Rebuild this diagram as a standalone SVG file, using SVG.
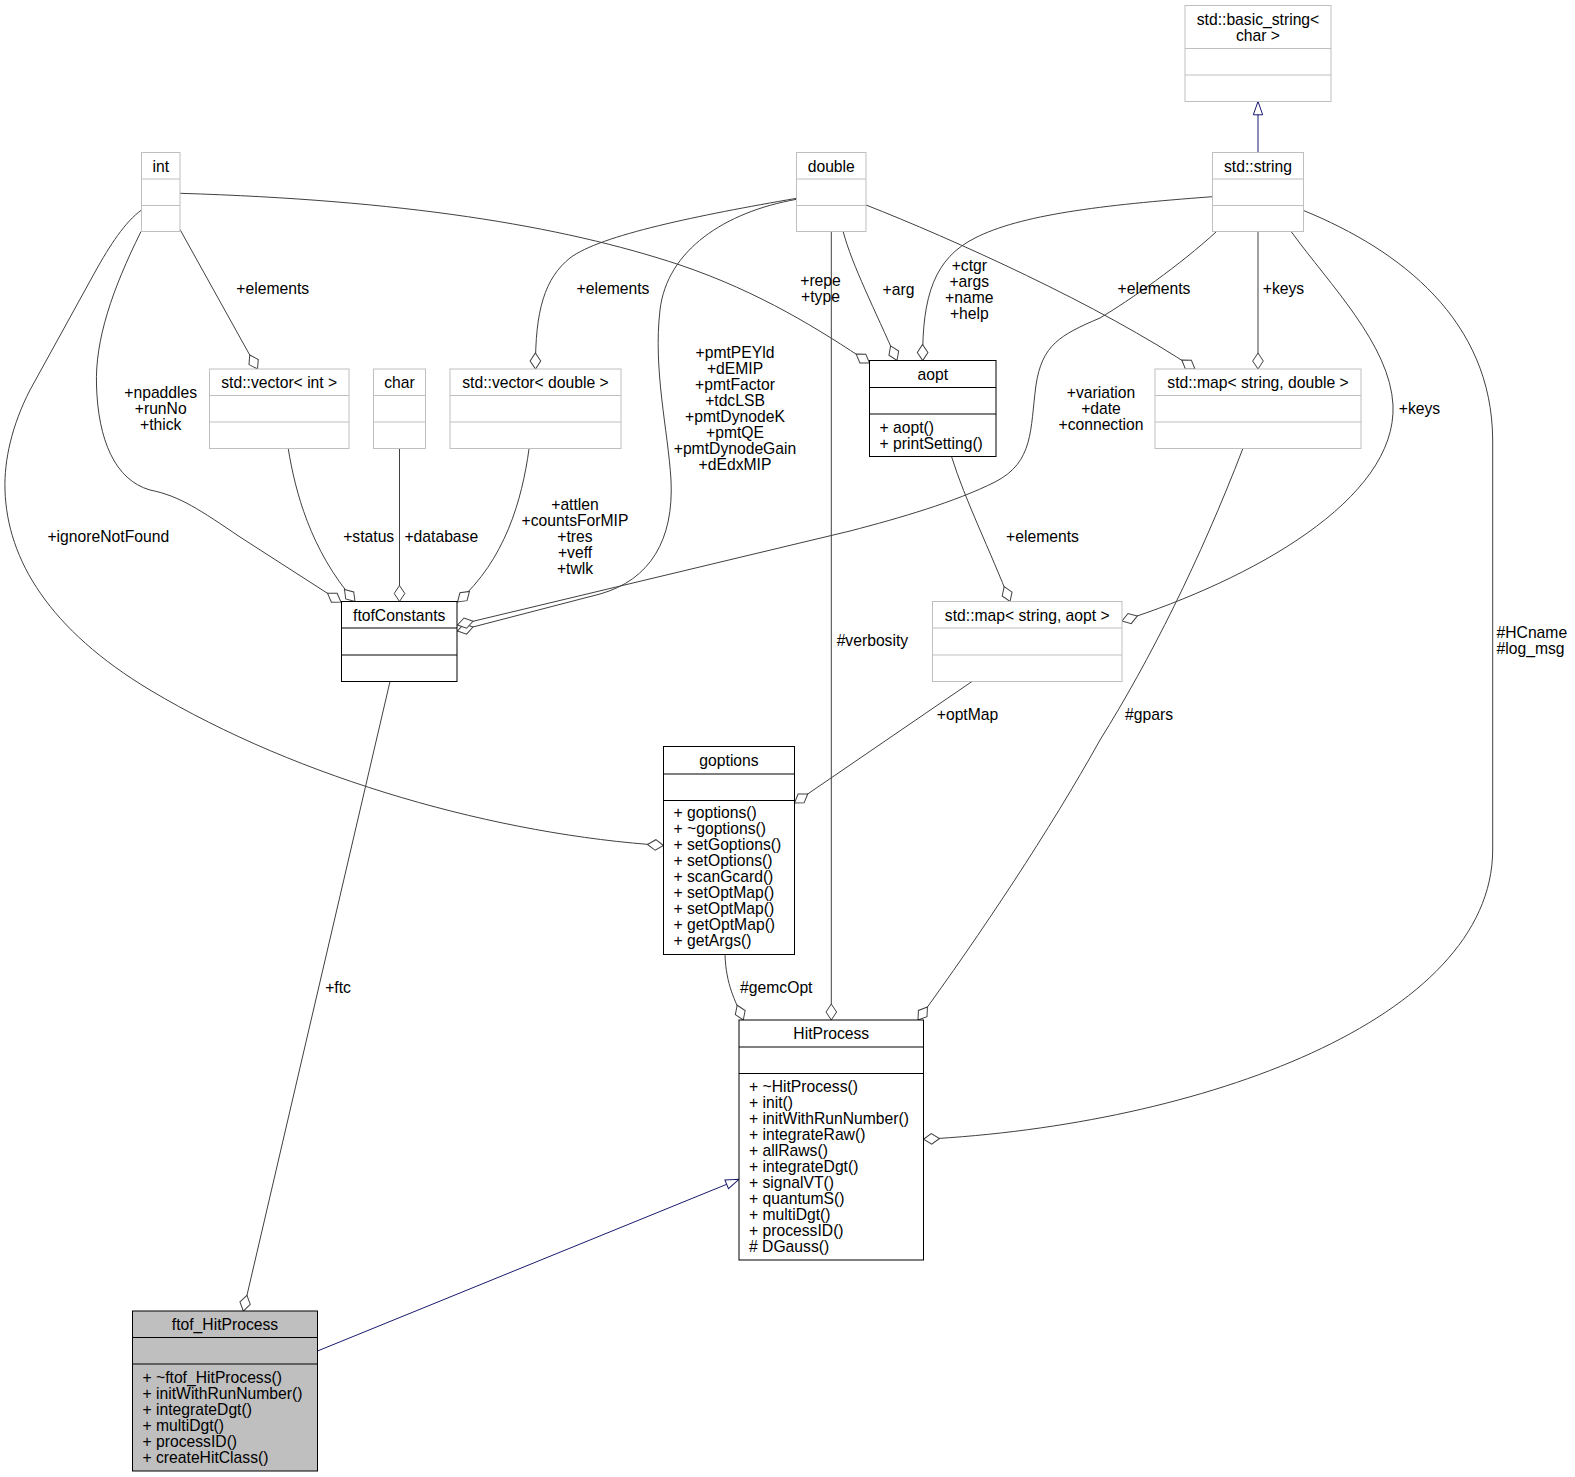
<svg xmlns="http://www.w3.org/2000/svg" width="1575" height="1477" viewBox="0 0 1575 1477">
<defs>
<style>
text{font-family:"Liberation Sans",Arial,Helvetica,sans-serif;font-size:15.7px;fill:#000}
.t{text-anchor:middle}
.m{text-anchor:start}
.ext rect,.ext line{stroke:#bfbfbf;fill:#fff;stroke-width:1}
.doc rect,.doc line{stroke:#000;fill:#fff;stroke-width:1}
.sel rect{fill:#bfbfbf}
.agg{fill:none;stroke:#404040;stroke-width:1;marker-end:url(#dia)}
.inh{fill:none;stroke:#191970;stroke-width:1;marker-end:url(#tri)}
</style>
<marker id="dia" markerUnits="userSpaceOnUse" viewBox="-1 -7 18 14" markerWidth="18" markerHeight="14" refX="16" refY="0" orient="auto" overflow="visible">
<path d="M0,0 L8,-5.3 L16,0 L8,5.3 Z" fill="#fff" stroke="#404040" stroke-width="1"/>
</marker>
<marker id="tri" markerUnits="userSpaceOnUse" viewBox="-1 -6 16 12" markerWidth="16" markerHeight="12" refX="13.3" refY="0" orient="auto" overflow="visible">
<path d="M0,-4.7 L13.3,0 L0,4.7 Z" fill="#fff" stroke="#191970" stroke-width="1"/>
</marker>
</defs>
<rect x="0" y="0" width="1575" height="1477" fill="#fff"/>

<g id="edges">
<path class="inh" d="M1258,152.5 L1258,101.5"/>
<path class="inh" d="M317.5,1351 L739,1179.3"/>
<path class="agg" d="M180,229.5 L257.5,369"/>
<path class="agg" d="M141,231.5 C112,290 95,340 96.5,385 C98,440 115,480 150,490 C180,496 200,510 240,537 L341,602"/>
<path class="agg" d="M141.5,210 C125,222 110,245 95,272 L30,390 C12,425 4,460 5,490 C7,560 50,630 150,690 C300,780 500,835 663.5,845.5"/>
<path class="agg" d="M180,193.3 C400,200 560,225 680,265 C760,292 820,330 869.5,363"/>
<path class="agg" d="M796.5,198.3 C700,215 600,235 570,258 C545,278 535,310 535.5,369"/>
<path class="agg" d="M796.5,199.3 C725,212 667,250 660,310 C653,370 668,430 671,480 C674,540 650,580 600,594 L457.5,631"/>
<path class="agg" d="M843.3,232 C852,265 875,310 897,360.5"/>
<path class="agg" d="M831.3,231.5 L831.3,1020"/>
<path class="agg" d="M866,205 C950,238 1100,305 1195,369"/>
<path class="agg" d="M1212.5,196.7 C1100,205 1020,215 975,238 C935,258 922,295 922.7,360.5"/>
<path class="agg" d="M1216,232 C1180,265 1130,300 1100,318 C1060,335 1042,345 1036,385 C1030,430 1034,462 995,482 C955,502 900,518 850,531 L457.5,625"/>
<path class="agg" d="M1258,231.5 L1258,369"/>
<path class="agg" d="M1291.5,232 C1330,285 1390,345 1393,405 C1397,500 1250,580 1122,621"/>
<path class="agg" d="M1304,210.7 C1400,250 1492,320 1492.7,440 L1492.7,850 C1492,1020 1200,1125 923.5,1139.3"/>
<path class="agg" d="M1242.7,449 C1200,560 1150,660 1100,740 C1050,830 980,935 918,1020"/>
<path class="agg" d="M972,681.5 L794.5,803"/>
<path class="agg" d="M951.7,457 C965,500 990,550 1010,601.5"/>
<path class="agg" d="M288.3,449 C295,490 310,550 355,601.5"/>
<path class="agg" d="M399.5,448.5 L399.5,601.5"/>
<path class="agg" d="M529,449 C522,500 505,560 457.5,602"/>
<path class="agg" d="M390,681.5 L243.3,1311"/>
<path class="agg" d="M725,954.5 C726,985 735,1000 743.3,1020"/>

<text class="t" x="272.7" y="293.8">+elements</text>
<text class="t" x="160.7" y="398.2">+npaddles</text>
<text class="t" x="160.7" y="414.2">+runNo</text>
<text class="t" x="160.7" y="430.2">+thick</text>
<text class="t" x="108.3" y="542.2">+ignoreNotFound</text>
<text class="t" x="613" y="293.8">+elements</text>
<text class="t" x="820.5" y="286.2">+repe</text>
<text class="t" x="820.5" y="302.2">+type</text>
<text class="t" x="898.5" y="294.8">+arg</text>
<text class="t" x="969.3" y="270.5">+ctgr</text>
<text class="t" x="969.3" y="286.5">+args</text>
<text class="t" x="969.3" y="302.5">+name</text>
<text class="t" x="969.3" y="318.5">+help</text>
<text class="t" x="735" y="357.8">+pmtPEYld</text>
<text class="t" x="735" y="373.8">+dEMIP</text>
<text class="t" x="735" y="389.8">+pmtFactor</text>
<text class="t" x="735" y="405.8">+tdcLSB</text>
<text class="t" x="735" y="421.8">+pmtDynodeK</text>
<text class="t" x="735" y="437.8">+pmtQE</text>
<text class="t" x="735" y="453.8">+pmtDynodeGain</text>
<text class="t" x="735" y="469.8">+dEdxMIP</text>
<text class="t" x="1154" y="293.8">+elements</text>
<text class="t" x="1283.5" y="293.8">+keys</text>
<text class="t" x="1101" y="398.2">+variation</text>
<text class="t" x="1101" y="414.2">+date</text>
<text class="t" x="1101" y="430.2">+connection</text>
<text class="t" x="1419.5" y="414.2">+keys</text>
<text class="t" x="368.7" y="542.2">+status</text>
<text class="t" x="441.3" y="542.2">+database</text>
<text class="t" x="575" y="509.8">+attlen</text>
<text class="t" x="575" y="525.8">+countsForMIP</text>
<text class="t" x="575" y="541.8">+tres</text>
<text class="t" x="575" y="557.8">+veff</text>
<text class="t" x="575" y="573.8">+twlk</text>
<text class="t" x="1042.5" y="542.2">+elements</text>
<text class="t" x="872.4" y="646.3">#verbosity</text>
<text class="t" x="967.5" y="719.8">+optMap</text>
<text class="t" x="1149" y="719.5">#gpars</text>
<text class="m" x="1496.5" y="638.3">#HCname</text>
<text class="m" x="1496.5" y="654.4">#log_msg</text>
<text class="t" x="776.3" y="993.2">#gemcOpt</text>
<text class="t" x="338" y="992.9">+ftc</text>
</g>

<g id="node-int" class="ext">
<rect x="141.5" y="152.5" width="38.5" height="79"/>
<line x1="141.5" y1="179" x2="180" y2="179"/>
<line x1="141.5" y1="205.5" x2="180" y2="205.5"/>
<text class="t" x="160.75" y="171.5">int</text>
</g>

<g id="node-vector-int" class="ext">
<rect x="209.5" y="369" width="139.5" height="79.5"/>
<line x1="209.5" y1="395.5" x2="349" y2="395.5"/>
<line x1="209.5" y1="422" x2="349" y2="422"/>
<text class="t" x="279.25" y="388">std::vector&lt; int &gt;</text>
</g>

<g id="node-char" class="ext">
<rect x="373.5" y="369" width="52" height="79.5"/>
<line x1="373.5" y1="395.5" x2="425.5" y2="395.5"/>
<line x1="373.5" y1="422" x2="425.5" y2="422"/>
<text class="t" x="399.5" y="388">char</text>
</g>

<g id="node-vector-double" class="ext">
<rect x="450" y="369" width="171" height="79.5"/>
<line x1="450" y1="395.5" x2="621" y2="395.5"/>
<line x1="450" y1="422" x2="621" y2="422"/>
<text class="t" x="535.5" y="388">std::vector&lt; double &gt;</text>
</g>

<g id="node-double" class="ext">
<rect x="796.5" y="152.5" width="69.5" height="79"/>
<line x1="796.5" y1="179" x2="866" y2="179"/>
<line x1="796.5" y1="205.5" x2="866" y2="205.5"/>
<text class="t" x="831.25" y="171.5">double</text>
</g>

<g id="node-aopt" class="doc">
<rect x="869.5" y="360.5" width="126.5" height="96"/>
<line x1="869.5" y1="387.5" x2="996" y2="387.5"/>
<line x1="869.5" y1="414" x2="996" y2="414"/>
<text class="t" x="932.75" y="379.5">aopt</text>
<text class="m" x="879.5" y="432.7">+ aopt()</text>
<text class="m" x="879.5" y="448.7">+ printSetting()</text>
</g>

<g id="node-basic-string" class="ext">
<rect x="1185" y="5.5" width="146" height="96"/>
<line x1="1185" y1="48.5" x2="1331" y2="48.5"/>
<line x1="1185" y1="75" x2="1331" y2="75"/>
<text class="t" x="1258" y="24.5">std::basic_string&lt;</text>
<text class="t" x="1258" y="40.5">char &gt;</text>
</g>

<g id="node-string" class="ext">
<rect x="1212.5" y="152.5" width="91" height="79"/>
<line x1="1212.5" y1="179" x2="1303.5" y2="179"/>
<line x1="1212.5" y1="205.5" x2="1303.5" y2="205.5"/>
<text class="t" x="1258" y="171.5">std::string</text>
</g>

<g id="node-map-string-double" class="ext">
<rect x="1155" y="369" width="206" height="79.5"/>
<line x1="1155" y1="395.5" x2="1361" y2="395.5"/>
<line x1="1155" y1="422" x2="1361" y2="422"/>
<text class="t" x="1258" y="388">std::map&lt; string, double &gt;</text>
</g>

<g id="node-ftofConstants" class="doc">
<rect x="341.5" y="601.5" width="115.5" height="80"/>
<line x1="341.5" y1="628" x2="457" y2="628"/>
<line x1="341.5" y1="655" x2="457" y2="655"/>
<text class="t" x="399.25" y="620.5">ftofConstants</text>
</g>

<g id="node-map-string-aopt" class="ext">
<rect x="932.5" y="601.5" width="189.5" height="80"/>
<line x1="932.5" y1="628" x2="1122" y2="628"/>
<line x1="932.5" y1="655" x2="1122" y2="655"/>
<text class="t" x="1027.25" y="620.5">std::map&lt; string, aopt &gt;</text>
</g>

<g id="node-goptions" class="doc">
<rect x="663.5" y="746.5" width="131" height="208"/>
<line x1="663.5" y1="774" x2="794.5" y2="774"/>
<line x1="663.5" y1="800.5" x2="794.5" y2="800.5"/>
<text class="t" x="729" y="765.5">goptions</text>
<text class="m" x="673.5" y="818.3">+ goptions()</text>
<text class="m" x="673.5" y="834.3">+ ~goptions()</text>
<text class="m" x="673.5" y="850.3">+ setGoptions()</text>
<text class="m" x="673.5" y="866.3">+ setOptions()</text>
<text class="m" x="673.5" y="882.3">+ scanGcard()</text>
<text class="m" x="673.5" y="898.3">+ setOptMap()</text>
<text class="m" x="673.5" y="914.3">+ setOptMap()</text>
<text class="m" x="673.5" y="930.3">+ getOptMap()</text>
<text class="m" x="673.5" y="946.3">+ getArgs()</text>
</g>

<g id="node-HitProcess" class="doc">
<rect x="739" y="1020" width="184.5" height="240"/>
<line x1="739" y1="1047" x2="923.5" y2="1047"/>
<line x1="739" y1="1073.5" x2="923.5" y2="1073.5"/>
<text class="t" x="831.25" y="1038.8">HitProcess</text>
<text class="m" x="749" y="1091.7">+ ~HitProcess()</text>
<text class="m" x="749" y="1107.7">+ init()</text>
<text class="m" x="749" y="1123.7">+ initWithRunNumber()</text>
<text class="m" x="749" y="1139.7">+ integrateRaw()</text>
<text class="m" x="749" y="1155.7">+ allRaws()</text>
<text class="m" x="749" y="1171.7">+ integrateDgt()</text>
<text class="m" x="749" y="1187.7">+ signalVT()</text>
<text class="m" x="749" y="1203.7">+ quantumS()</text>
<text class="m" x="749" y="1219.7">+ multiDgt()</text>
<text class="m" x="749" y="1235.7">+ processID()</text>
<text class="m" x="749" y="1251.7"># DGauss()</text>
</g>

<g id="node-ftof_HitProcess" class="doc sel">
<rect x="132.5" y="1311" width="185" height="160"/>
<line x1="132.5" y1="1337.5" x2="317.5" y2="1337.5"/>
<line x1="132.5" y1="1364" x2="317.5" y2="1364"/>
<text class="t" x="225" y="1330">ftof_HitProcess</text>
<text class="m" x="142.5" y="1382.7">+ ~ftof_HitProcess()</text>
<text class="m" x="142.5" y="1398.7">+ initWithRunNumber()</text>
<text class="m" x="142.5" y="1414.7">+ integrateDgt()</text>
<text class="m" x="142.5" y="1430.7">+ multiDgt()</text>
<text class="m" x="142.5" y="1446.7">+ processID()</text>
<text class="m" x="142.5" y="1462.7">+ createHitClass()</text>
</g>
</svg>
